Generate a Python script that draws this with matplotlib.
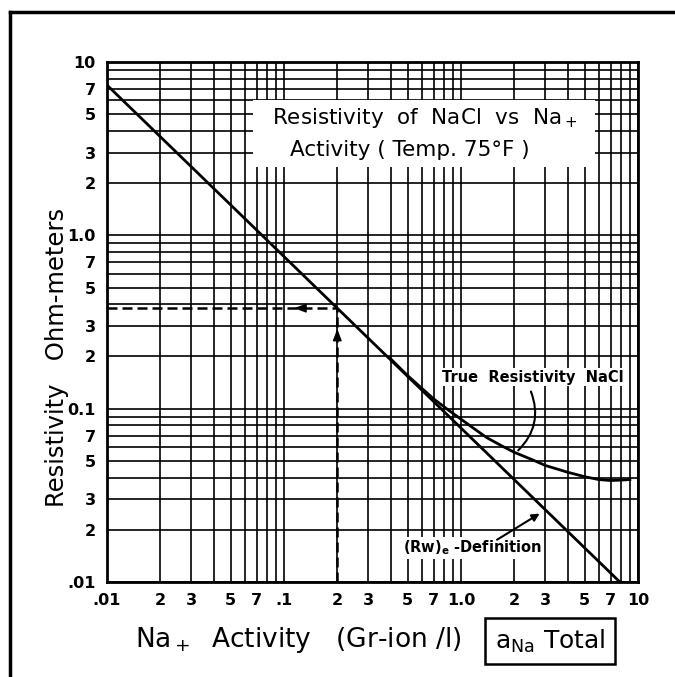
import numpy as np
import matplotlib
matplotlib.use("Agg")
import matplotlib.pyplot as plt
from matplotlib.ticker import FixedLocator, LogLocator, NullFormatter
from matplotlib.patches import Rectangle
from matplotlib.lines import Line2D

plt.rcParams['font.family'] = ['DejaVu Sans']
plt.rcParams['mathtext.default'] = 'regular'

# Tick positions and labels (log axes)
x_ticks = [0.01, 0.02, 0.03, 0.05, 0.07, 0.1, 0.2, 0.3, 0.5, 0.7, 1, 2, 3, 5, 7, 10]
x_labels = ['.01', '2', '3', '5', '7', '.1', '2', '3', '5', '7', '1.0', '2', '3', '5', '7', '10']
y_ticks = [0.01, 0.02, 0.03, 0.05, 0.07, 0.1, 0.2, 0.3, 0.5, 0.7, 1, 2, 3, 5, 7, 10]
y_labels = ['.01', '2', '3', '5', '7', '0.1', '2', '3', '5', '7', '1.0', '2', '3', '5', '7', '10']

# (Rw)e definition - straight line
rw_activity = [0.01, 7.9]
rw_resist = [7.36, 0.01]

# True resistivity of NaCl
true_activity = [0.4, 0.5, 0.7, 0.85, 1.0, 1.2, 1.4, 1.7, 2.0, 2.5, 3.0, 4.0, 5.0, 6.0, 7.0, 8.0, 9.0]
true_resist = [0.194, 0.155, 0.114, 0.098, 0.087, 0.076, 0.068, 0.061, 0.056, 0.051, 0.047, 0.043,
               0.0405, 0.039, 0.0385, 0.0387, 0.039]

# example read-off
guide_activity = 0.2
guide_resist = 0.38

fig = plt.figure(figsize=(6.75, 6.77), dpi=100)
ax = fig.add_axes([107 / 675, 1 - 582 / 677, 531 / 675, 520 / 677])
ax.set_xscale('log')
ax.set_yscale('log')
ax.set_xlim(0.01, 10)
ax.set_ylim(0.01, 10)

# full log grid
ax.xaxis.set_minor_locator(LogLocator(base=10, subs=np.arange(1, 10)))
ax.yaxis.set_minor_locator(LogLocator(base=10, subs=np.arange(1, 10)))
ax.xaxis.set_minor_formatter(NullFormatter())
ax.yaxis.set_minor_formatter(NullFormatter())
ax.grid(True, which='both', color='black', linewidth=1.2)
ax.set_axisbelow(True)

ax.xaxis.set_major_locator(FixedLocator(x_ticks))
ax.yaxis.set_major_locator(FixedLocator(y_ticks))
ax.set_xticklabels(x_labels, fontsize=11.5, fontweight='bold')
ax.set_yticklabels(y_labels, fontsize=11.5, fontweight='bold')
ax.tick_params(which='both', length=0, pad=8)
for s in ax.spines.values():
    s.set_linewidth(2)

# curves
ax.plot(rw_activity, rw_resist, color='black', linewidth=2, zorder=4)
ax.plot(true_activity, true_resist, color='black', linewidth=2, zorder=4,
        solid_joinstyle='round')

# dashed guide lines with arrowheads
ax.plot([guide_activity, guide_activity], [0.01, guide_resist], color='black',
        linestyle=(0, (4, 2)), linewidth=1.8, zorder=4)
ax.plot([0.01, guide_activity], [guide_resist, guide_resist], color='black',
        linestyle=(0, (4, 2)), linewidth=1.8, zorder=4)
ax.annotate('', xy=(0.11, guide_resist), xytext=(0.125, guide_resist),
            arrowprops=dict(arrowstyle='-|>,head_length=0.8,head_width=0.3', color='black',
                            lw=1, mutation_scale=9), zorder=5)
ax.annotate('', xy=(guide_activity, 0.30), xytext=(guide_activity, 0.26),
            arrowprops=dict(arrowstyle='-|>,head_length=0.8,head_width=0.3', color='black',
                            lw=1, mutation_scale=9), zorder=5)

# title box
ax.add_patch(Rectangle((0.275, 0.798), 0.644, 0.129, transform=ax.transAxes,
                       facecolor='white', edgecolor='none', zorder=3))
ax.text(0.599, 0.893, 'Resistivity  of  NaCl  vs  Na$_+$', transform=ax.transAxes,
        ha='center', va='center', fontsize=15.5, zorder=5)
ax.text(0.571, 0.83, 'Activity ( Temp. 75°F )', transform=ax.transAxes,
        ha='center', va='center', fontsize=15.5, zorder=5)

# curve labels
ax.text(0.78, 0.152, 'True  Resistivity  NaCl', fontsize=10.5, fontweight='bold',
        ha='left', va='center', zorder=5,
        bbox=dict(facecolor='white', edgecolor='none', pad=1))
ax.annotate('', xy=(2.05, 0.056), xytext=(2.45, 0.13),
            arrowprops=dict(arrowstyle='-', color='black', lw=1.5,
                            connectionstyle='arc3,rad=-0.35'), zorder=5)
ax.text(0.47, 0.0157, '(Rw)$_e$ -Definition', fontsize=10.5, fontweight='bold',
        ha='left', va='center', zorder=5,
        bbox=dict(facecolor='white', edgecolor='none', pad=1))
ax.annotate('', xy=(2.87, 0.0253), xytext=(1.55, 0.0172),
            arrowprops=dict(arrowstyle='-|>', color='black', lw=1.5, mutation_scale=11), zorder=5)

# axis labels
fig.text(135 / 675, 1 - 640 / 677, 'Na$_+$  Activity   (Gr-ion /l)', fontsize=19,
         ha='left', va='center')
fig.text(57 / 675, 1 - 357 / 677, 'Resistivity   Ohm-meters', fontsize=17.5,
         rotation=90, ha='center', va='center')
fig.text(550 / 675, 1 - 641 / 677, '$a_{Na}$ Total', fontsize=18, ha='center', va='center',
         bbox=dict(boxstyle='square,pad=0.38', facecolor='white', edgecolor='black', linewidth=1.8))

# outer frame (top and left edges)
fig.add_artist(Line2D([10 / 675, 1.0], [1 - 12 / 677, 1 - 12 / 677], transform=fig.transFigure,
                      color='black', linewidth=2.5))
fig.add_artist(Line2D([10 / 675, 10 / 675], [0.0, 1 - 12 / 677], transform=fig.transFigure,
                      color='black', linewidth=2.5))

fig.savefig('out.png', dpi=100)
